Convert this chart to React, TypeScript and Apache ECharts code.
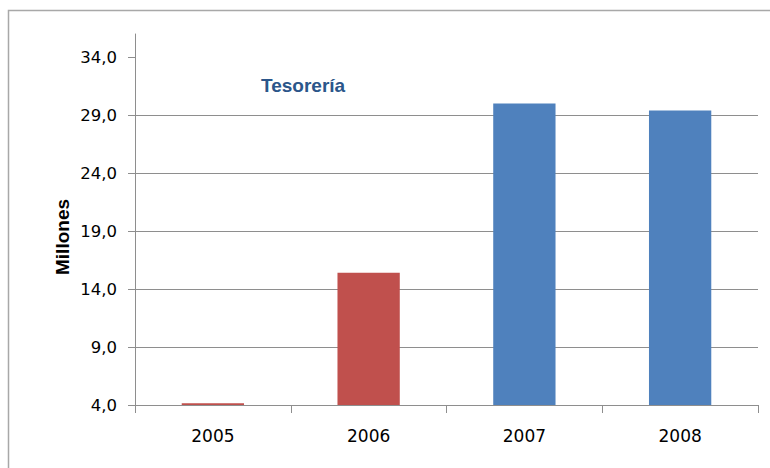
import React, { useEffect, useRef } from "react";
import * as echarts from "echarts";

const years = ["2005", "2006", "2007", "2008"];
const values = [4.15, 15.4, 30.0, 29.4];
const yTicks = [4, 9, 14, 19, 24, 29, 34];
const yMin = 4;
const yMax = 36;
const yStep = 5;
const titleText = "Tesorería";
const yName = "Millones";

const RED = "#C0504D";
const BLUE = "#4F81BD";
const GRID_GRAY = "#8E8E8E";

export default function App() {
  const ref = useRef<HTMLDivElement>(null);
  useEffect(() => {
    if (!ref.current) return;
    const chart = echarts.init(ref.current, undefined, { renderer: "svg" });
    chart.setOption({
      animation: false,
      backgroundColor: "#ffffff",
      title: {
        text: titleText,
        left: 256,
        top: 71,
        textStyle: {
          fontFamily: "Liberation Sans",
          fontWeight: "bold",
          fontSize: 19,
          color: "#2B568A",
        },
      },
      graphic: [
        {
          type: "rect",
          shape: { x: 8.5, y: 10.5, width: 800, height: 500 },
          style: { fill: "none", stroke: "#A8A8A8", lineWidth: 1.5 },
          silent: true,
        },
        {
          type: "text",
          x: 62,
          y: 237,
          rotation: Math.PI / 2,
          style: {
            text: yName,
            fontFamily: "Liberation Sans",
            fontWeight: "bold",
            fontSize: 19,
            fill: "#000000",
            align: "center",
            verticalAlign: "middle",
          },
        },
      ],
      grid: { left: 135, right: 12, top: 34, bottom: 63 },
      xAxis: {
        type: "category",
        data: years,
        boundaryGap: true,
        axisLine: { show: true, lineStyle: { color: GRID_GRAY, width: 1 } },
        axisTick: { show: true, length: 8, lineStyle: { color: GRID_GRAY } },
        axisLabel: {
          margin: 22,
          fontFamily: "DejaVu Sans",
          fontSize: 17,
          color: "#000000",
        },
        splitLine: { show: false },
      },
      yAxis: {
        type: "value",
        min: yMin,
        max: yMax,
        interval: yStep,
        axisLine: { show: true, lineStyle: { color: GRID_GRAY, width: 1 } },
        axisTick: {
          show: true,
          length: 7,
          customValues: yTicks,
          lineStyle: { color: GRID_GRAY },
        },
        axisLabel: {
          customValues: yTicks,
          margin: 18,
          fontFamily: "DejaVu Sans",
          fontSize: 16.5,
          color: "#000000",
          formatter: (v: number) => v.toFixed(1).replace(".", ","),
        },
        splitLine: {
          show: true,
          showMaxLine: false,
          lineStyle: { color: GRID_GRAY, width: 1 },
        },
      },
      series: [
        {
          type: "bar",
          data: values,
          barWidth: "40%",
          itemStyle: {
            color: (p: any) => (p.dataIndex < 2 ? RED : BLUE),
          },
        },
      ],
    });
    return () => chart.dispose();
  }, []);
  return (
    <div
      ref={ref}
      style={{ position: "fixed", left: 0, top: 0, width: 770, height: 468 }}
    />
  );
}
